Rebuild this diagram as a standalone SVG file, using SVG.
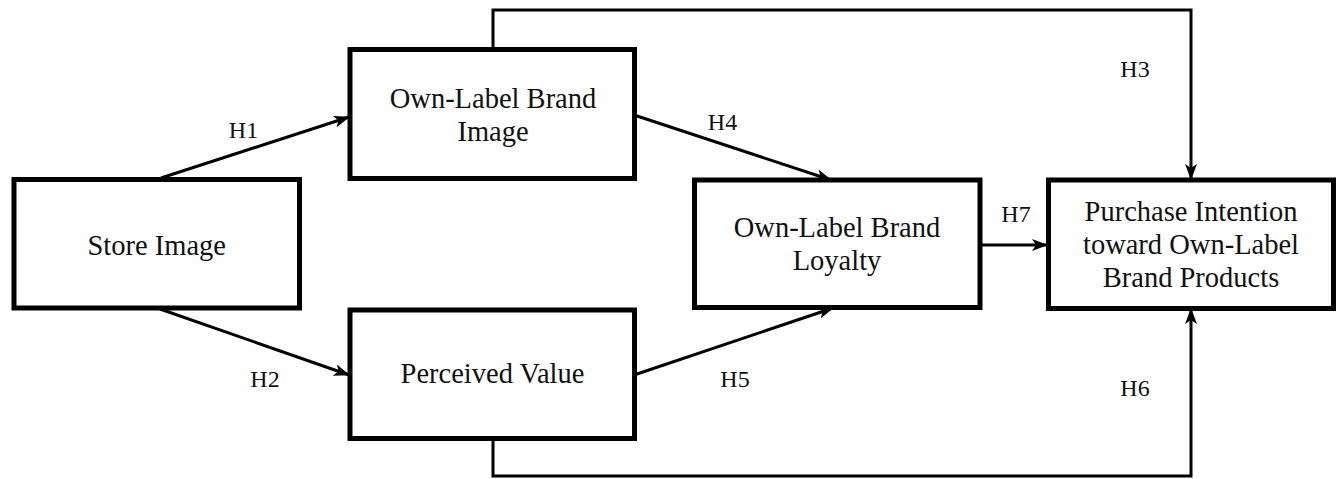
<svg xmlns="http://www.w3.org/2000/svg" width="1341" height="479" viewBox="0 0 1341 479">
<style>
.box{fill:#fff;stroke:#000;stroke-width:5}
.t{font-family:"Liberation Serif","Times New Roman",serif;font-size:28.5px;fill:#111;text-anchor:middle}
.h{font-family:"Liberation Serif","Times New Roman",serif;font-size:24px;fill:#111;text-anchor:middle}
.c{fill:none;stroke:#000;stroke-width:3}
</style>
<defs>
<marker id="ah" markerUnits="userSpaceOnUse" markerWidth="16" markerHeight="12" refX="15" refY="6" orient="auto">
<path d="M0,0 L16,6 L0,12 L4,6 Z" fill="#000"/>
</marker>
</defs>
<rect width="1341" height="479" fill="#fff"/>
<g id="connectors">
<path class="c" d="M161,178 L349,117" marker-end="url(#ah)"/>
<path class="c" d="M160,309 L349,375" marker-end="url(#ah)"/>
<path class="c" d="M634,115 L831,180" marker-end="url(#ah)"/>
<path class="c" d="M634,375 L833,308" marker-end="url(#ah)"/>
<path class="c" d="M980,245 L1047,245" marker-end="url(#ah)"/>
<path class="c" d="M493,49 L493,10 L1191,10 L1191,179" marker-end="url(#ah)"/>
<path class="c" d="M493,439 L493,476 L1191,476 L1191,309" marker-end="url(#ah)"/>
<text class="h" x="243.5" y="138">H1</text>
<text class="h" x="265" y="387">H2</text>
<text class="h" x="1135" y="77">H3</text>
<text class="h" x="722.5" y="130">H4</text>
<text class="h" x="735" y="387">H5</text>
<text class="h" x="1135" y="396">H6</text>
<text class="h" x="1016" y="222">H7</text>
</g>
<g id="store-image">
<rect class="box" x="14" y="179.5" width="285.5" height="128.5"/>
<text class="t" x="156.75" y="255">Store Image</text>
</g>
<g id="own-label-brand-image">
<rect class="box" x="350" y="49.5" width="284.5" height="129"/>
<text class="t" x="493" y="107.5">Own-Label Brand</text>
<text class="t" x="493" y="140.5">Image</text>
</g>
<g id="perceived-value">
<rect class="box" x="350" y="310" width="284.5" height="128.5"/>
<text class="t" x="492.5" y="383">Perceived Value</text>
</g>
<g id="own-label-brand-loyalty">
<rect class="box" x="694.5" y="180" width="285.5" height="127.5"/>
<text class="t" x="837" y="237">Own-Label Brand</text>
<text class="t" x="837" y="270">Loyalty</text>
</g>
<g id="purchase-intention">
<rect class="box" x="1048.5" y="180" width="285" height="128.5"/>
<text class="t" x="1191" y="221">Purchase Intention</text>
<text class="t" x="1191" y="254">toward Own-Label</text>
<text class="t" x="1191" y="287">Brand Products</text>
</g>
</svg>
